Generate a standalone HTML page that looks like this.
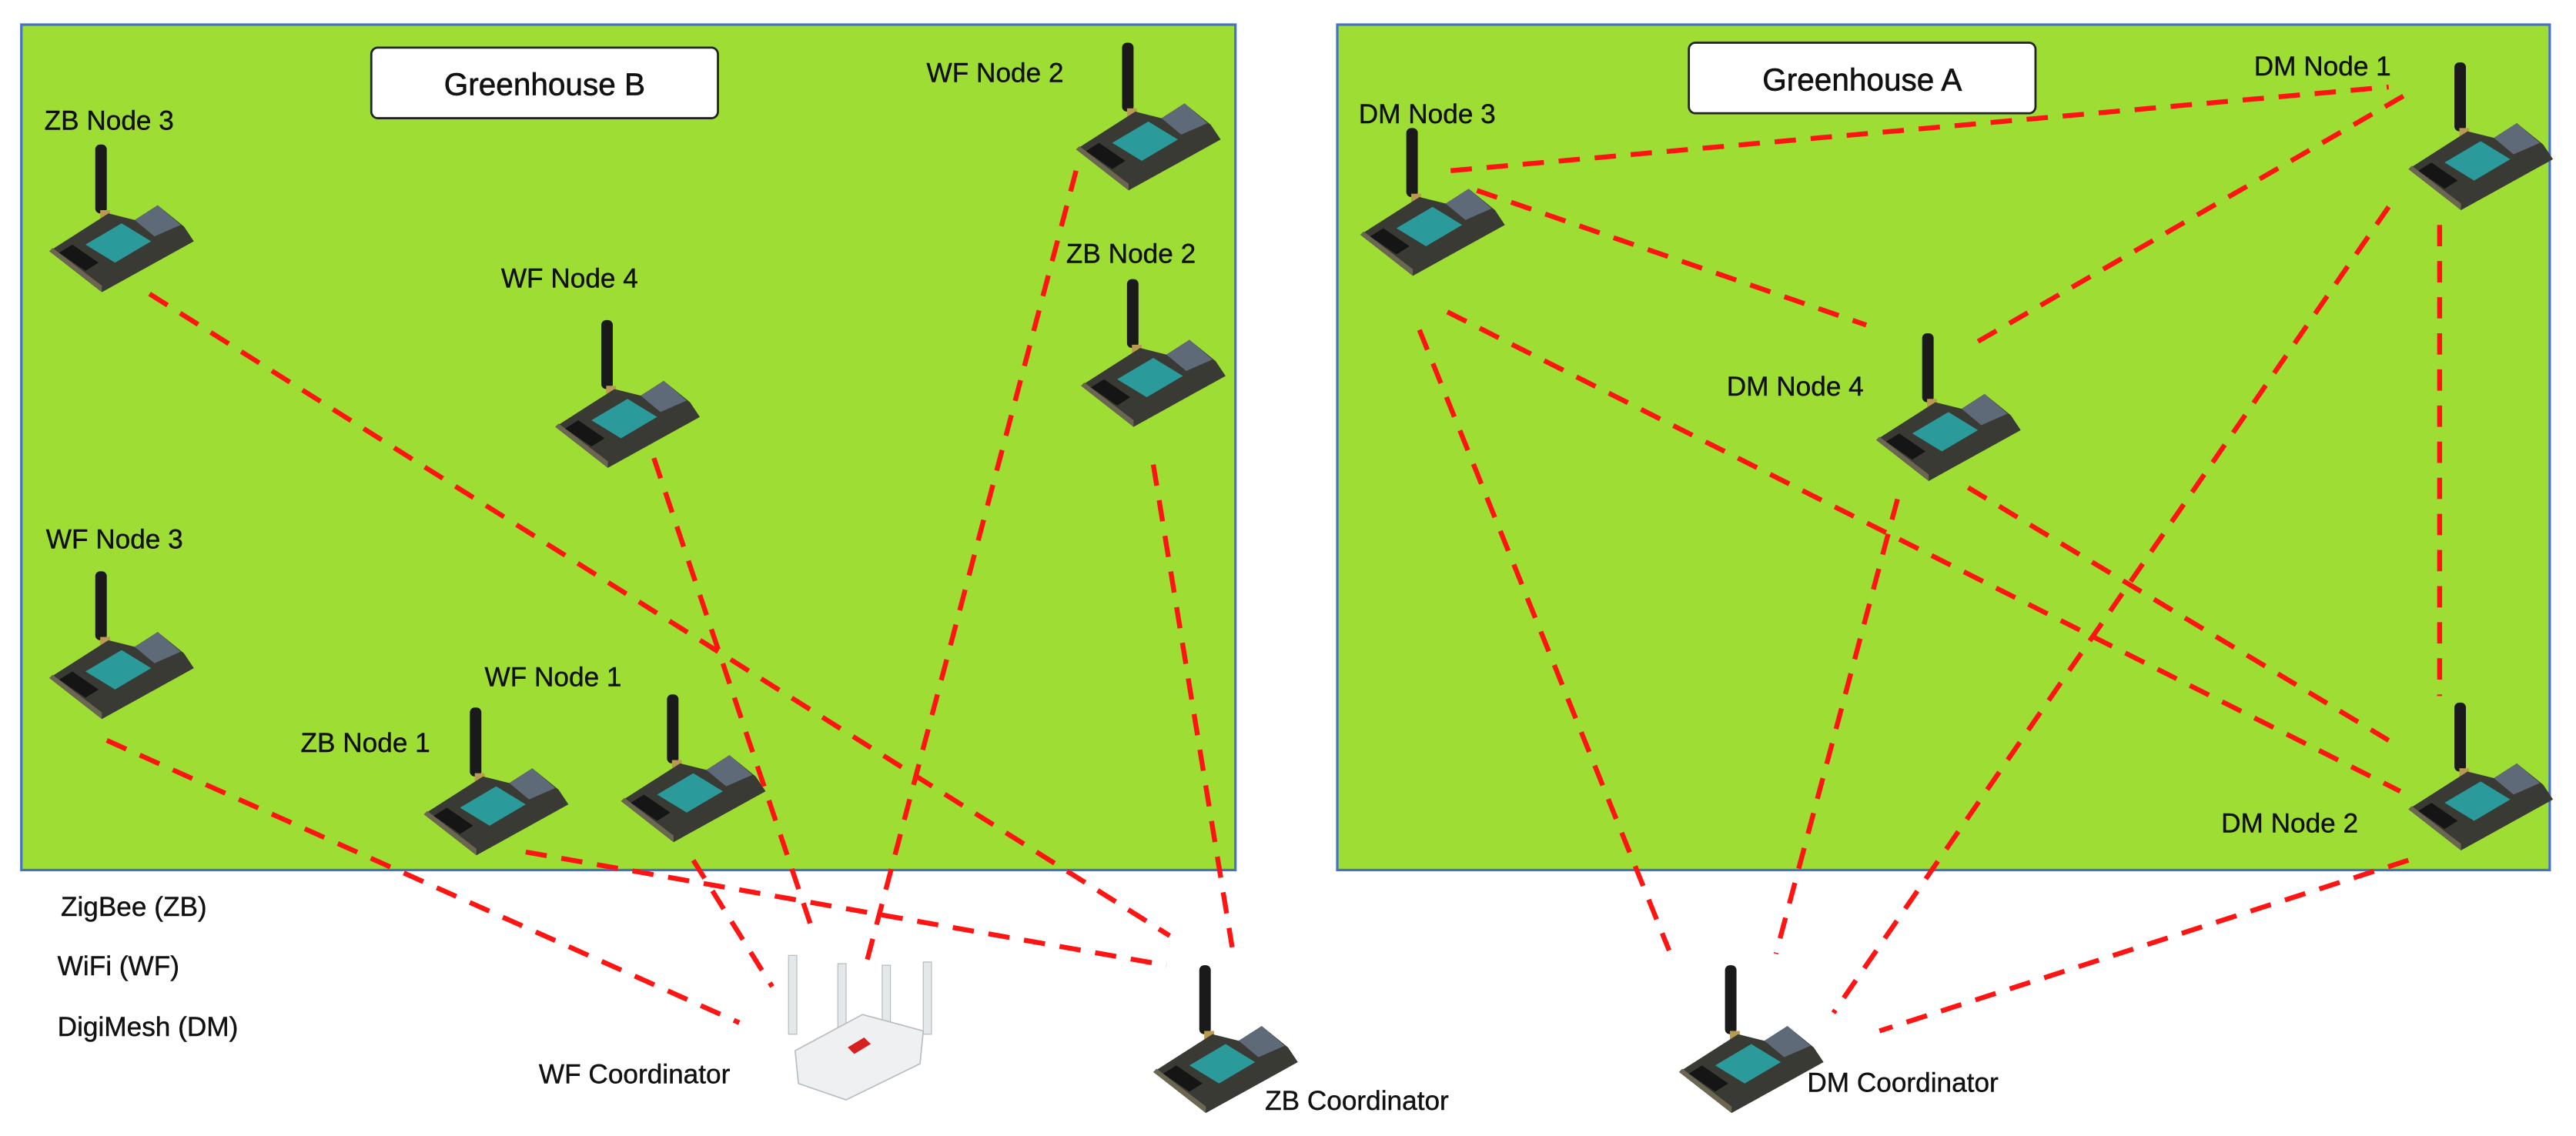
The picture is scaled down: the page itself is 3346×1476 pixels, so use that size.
<!DOCTYPE html>
<html><head><meta charset="utf-8"><style>
html,body{margin:0;padding:0;background:#fff;}
svg{display:block;}
text{font-family:"Liberation Sans",Arial,sans-serif;fill:#111;}
</style></head><body>
<svg width="3346" height="1476" viewBox="0 0 1568 692" preserveAspectRatio="none" xmlns="http://www.w3.org/2000/svg">
<defs>
<g id="node">
  <rect x="-16" y="-62" width="7" height="42" rx="3" fill="#1a1a1a"/>
  <rect x="-13" y="-22" width="6" height="7" fill="#b89a50"/>
  <polygon points="-44,3 -8,-20 8,-16 22,-25 38,-12 44,-3 -12,28" fill="#3a3a35"/>
  <polygon points="-44,3 -12,28 -12,24 -42,1" fill="#6a6650"/>
  <polygon points="8,-16 22,-25 36,-13 20,-6" fill="#5f6a78"/>
  <polygon points="-22,-1 0,-14 18,-3 -4,10" fill="#2a9a9a"/>
  <polygon points="-38,4 -30,-1 -14,10 -22,15" fill="#151515"/>
</g>
</defs>
<rect x="13" y="15" width="739" height="515" fill="#9edd34" stroke="#4472c4" stroke-width="1.5"/>
<rect x="814" y="15" width="738" height="515" fill="#9edd34" stroke="#4472c4" stroke-width="1.5"/>
<rect x="226" y="29" width="211" height="43" rx="4" fill="#fff" stroke="#222" stroke-width="1.3"/>
<text x="331.5" y="58" font-size="19" text-anchor="middle" stroke="#111" stroke-width="0.3">Greenhouse B</text>
<rect x="1028" y="26" width="211" height="43" rx="4" fill="#fff" stroke="#222" stroke-width="1.3"/>
<text x="1133.5" y="55" font-size="19" text-anchor="middle" stroke="#111" stroke-width="0.3">Greenhouse A</text>

<use href="#node" x="74" y="150"/>
<use href="#node" x="382" y="257"/>
<use href="#node" x="699" y="88"/>
<use href="#node" x="702" y="232"/>
<use href="#node" x="74" y="410"/>
<use href="#node" x="302" y="493"/>
<use href="#node" x="422" y="485"/>
<use href="#node" x="746" y="650"/>
<use href="#node" x="872" y="140"/>
<use href="#node" x="1186" y="265"/>
<use href="#node" x="1510" y="100"/>
<use href="#node" x="1510" y="490"/>
<use href="#node" x="1066" y="650"/>

<g>
  <rect x="480" y="582" width="5" height="48" fill="#e4e8ea" stroke="#b8bec2" stroke-width="0.6"/>
  <rect x="510" y="587" width="5" height="40" fill="#e4e8ea" stroke="#b8bec2" stroke-width="0.6"/>
  <rect x="537" y="588" width="5" height="42" fill="#e4e8ea" stroke="#b8bec2" stroke-width="0.6"/>
  <rect x="562" y="586" width="5" height="44" fill="#e4e8ea" stroke="#b8bec2" stroke-width="0.6"/>
  <polygon points="484,640 525,618 562,628 560,648 515,670 486,660" fill="#eef0f1" stroke="#b8bec2" stroke-width="0.8"/>
  <polygon points="516,638 526,632 530,636 520,642" fill="#d82020"/>
</g>

<g stroke="#ff1414" stroke-width="3" stroke-dasharray="13,9" fill="none">
  <line x1="91" y1="179" x2="712" y2="570"/>
  <line x1="398" y1="279" x2="495" y2="568"/>
  <line x1="655" y1="104" x2="527" y2="588"/>
  <line x1="702" y1="283" x2="750" y2="577"/>
  <line x1="65" y1="451" x2="450" y2="623"/>
  <line x1="320" y1="519" x2="710" y2="588"/>
  <line x1="422" y1="524" x2="470" y2="601"/>
  <line x1="883" y1="104" x2="1454" y2="53"/>
  <line x1="899" y1="116" x2="1136" y2="198"/>
  <line x1="1204" y1="208" x2="1469" y2="55"/>
  <line x1="881" y1="190" x2="1461" y2="482"/>
  <line x1="864" y1="201" x2="1016" y2="579"/>
  <line x1="1198" y1="297" x2="1454" y2="451"/>
  <line x1="1155" y1="304" x2="1081" y2="581"/>
  <line x1="1454" y1="126" x2="1116" y2="617"/>
  <line x1="1485" y1="137" x2="1485" y2="424"/>
  <line x1="1466" y1="524" x2="1144" y2="628"/>
</g>

<g font-size="16.5" stroke="#111" stroke-width="0.2">
<text x="27" y="79">ZB Node 3</text>
<text x="305" y="175">WF Node 4</text>
<text x="564" y="50">WF Node 2</text>
<text x="649" y="160">ZB Node 2</text>
<text x="28" y="334">WF Node 3</text>
<text x="295" y="418">WF Node 1</text>
<text x="183" y="458">ZB Node 1</text>
<text x="328" y="660">WF Coordinator</text>
<text x="770" y="676">ZB Coordinator</text>
<text x="827" y="75">DM Node 3</text>
<text x="1051" y="241">DM Node 4</text>
<text x="1372" y="46">DM Node 1</text>
<text x="1352" y="507">DM Node 2</text>
<text x="1100" y="665">DM Coordinator</text>
<text x="37" y="558">ZigBee (ZB)</text>
<text x="35" y="594">WiFi (WF)</text>
<text x="35" y="631">DigiMesh (DM)</text>
</g>
</svg>
</body></html>
